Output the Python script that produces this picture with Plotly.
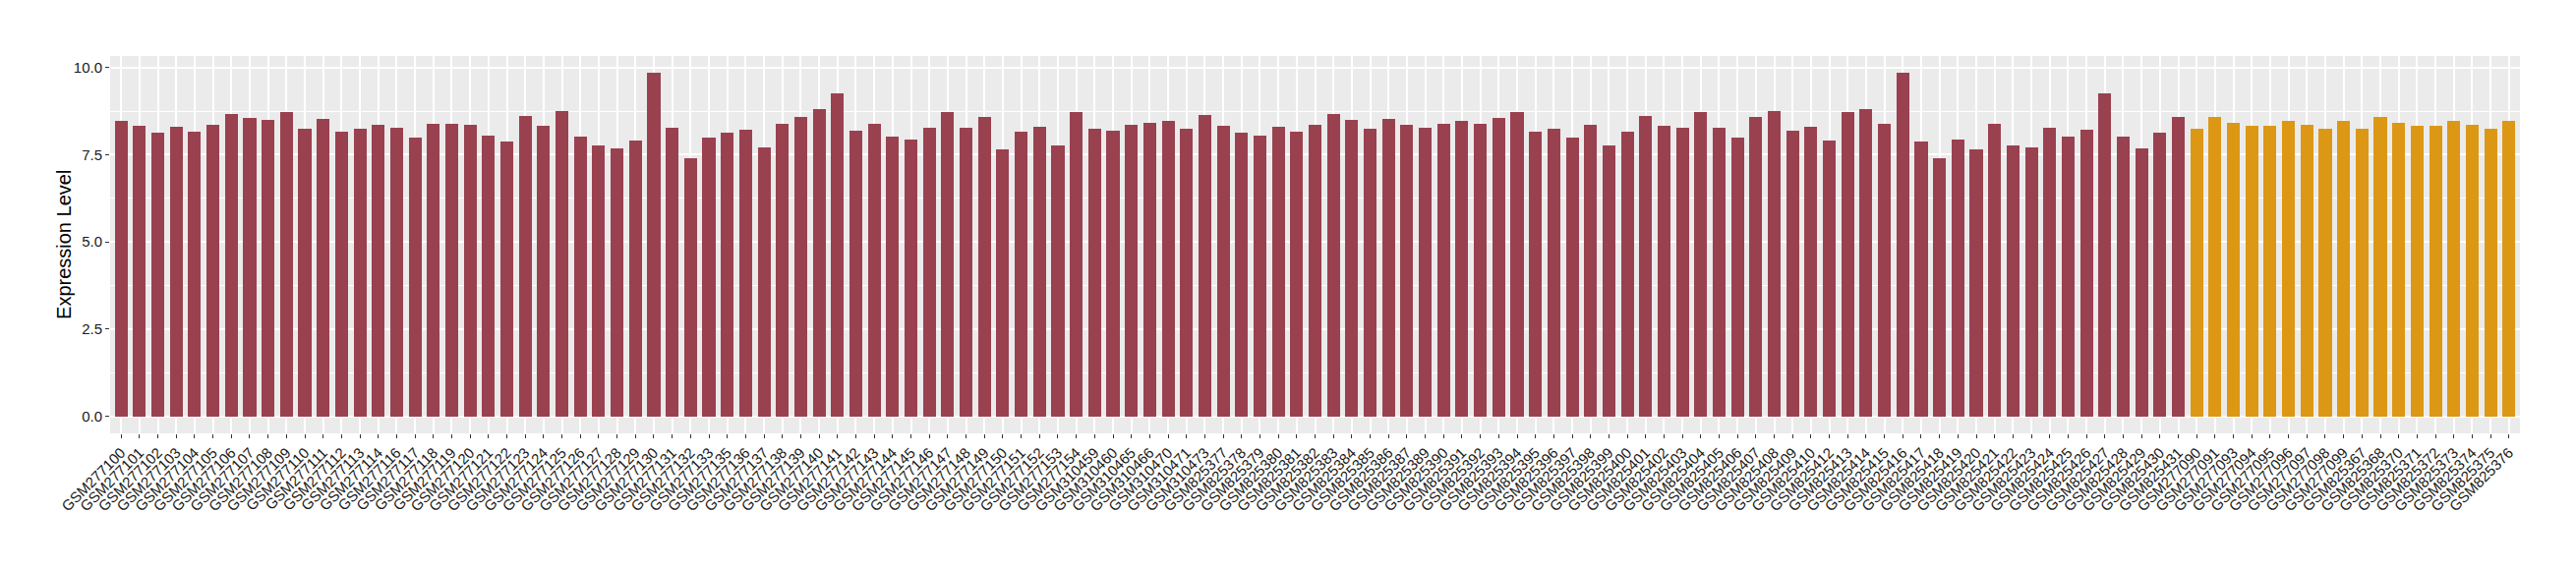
import plotly.graph_objects as go

# Group 1 (dark red) samples and expression values
group1_samples = [
    "GSM277100", "GSM277101", "GSM277102", "GSM277103", "GSM277104", "GSM277105",
    "GSM277106", "GSM277107", "GSM277108", "GSM277109", "GSM277110", "GSM277111",
    "GSM277112", "GSM277113", "GSM277114", "GSM277116", "GSM277117", "GSM277118",
    "GSM277119", "GSM277120", "GSM277121", "GSM277122", "GSM277123", "GSM277124",
    "GSM277125", "GSM277126", "GSM277127", "GSM277128", "GSM277129", "GSM277130",
    "GSM277131", "GSM277132", "GSM277133", "GSM277135", "GSM277136", "GSM277137",
    "GSM277138", "GSM277139", "GSM277140", "GSM277141", "GSM277142", "GSM277143",
    "GSM277144", "GSM277145", "GSM277146", "GSM277147", "GSM277148", "GSM277149",
    "GSM277150", "GSM277151", "GSM277152", "GSM277153", "GSM277154",
    "GSM310459", "GSM310460", "GSM310465", "GSM310466", "GSM310470", "GSM310471",
    "GSM310473",
    "GSM825377", "GSM825378", "GSM825379", "GSM825380", "GSM825381", "GSM825382",
    "GSM825383", "GSM825384", "GSM825385", "GSM825386", "GSM825387", "GSM825389",
    "GSM825390", "GSM825391", "GSM825392", "GSM825393", "GSM825394", "GSM825395",
    "GSM825396", "GSM825397", "GSM825398", "GSM825399", "GSM825400", "GSM825401",
    "GSM825402", "GSM825403", "GSM825404", "GSM825405", "GSM825406", "GSM825407",
    "GSM825408", "GSM825409", "GSM825410", "GSM825412", "GSM825413", "GSM825414",
    "GSM825415", "GSM825416", "GSM825417", "GSM825418", "GSM825419", "GSM825420",
    "GSM825421", "GSM825422", "GSM825423", "GSM825424", "GSM825425", "GSM825426",
    "GSM825427", "GSM825428", "GSM825429", "GSM825430", "GSM825431",
]
group1_values = [
    8.47, 8.33, 8.13, 8.30, 8.16, 8.36, 8.67, 8.56, 8.50, 8.73, 8.25, 8.53,
    8.16, 8.25, 8.36, 8.28, 7.99, 8.39, 8.39, 8.36, 8.05, 7.88, 8.62, 8.33,
    8.76, 8.02, 7.77, 7.68, 7.91, 9.84, 8.28, 7.40, 7.99, 8.13, 8.22, 7.71,
    8.39, 8.59, 8.82, 9.27, 8.19, 8.39, 8.02, 7.94, 8.28, 8.73, 8.28, 8.59,
    7.65, 8.16, 8.30, 7.77, 8.73,
    8.25, 8.19, 8.36, 8.42, 8.48, 8.25, 8.65,
    8.33, 8.13, 8.05, 8.30, 8.16, 8.36, 8.67, 8.50, 8.25, 8.53, 8.36, 8.28,
    8.39, 8.48, 8.39, 8.56, 8.73, 8.16, 8.25, 7.99, 8.36, 7.77, 8.16, 8.62,
    8.33, 8.28, 8.73, 8.28, 7.99, 8.59, 8.76, 8.19, 8.30, 7.91, 8.73, 8.82,
    8.39, 9.84, 7.88, 7.40, 7.94, 7.65, 8.39, 7.77, 7.71, 8.28, 8.02, 8.22,
    9.27, 8.02, 7.68, 8.13, 8.59,
]

# Group 2 (orange) samples and expression values
group2_samples = [
    "GSM277090", "GSM277091", "GSM277093", "GSM277094", "GSM277095", "GSM277096",
    "GSM277097", "GSM277098", "GSM277099", "GSM825367", "GSM825368", "GSM825370",
    "GSM825371", "GSM825372", "GSM825373", "GSM825374", "GSM825375", "GSM825376",
]
group2_values = [
    8.25, 8.59, 8.42, 8.33, 8.33, 8.48, 8.36, 8.25, 8.48,
    8.25, 8.59, 8.42, 8.33, 8.33, 8.48, 8.36, 8.25, 8.48,
]

y_ticks = [0, 2.5, 5, 7.5, 10]
y_tick_labels = ["0.0", "2.5", "5.0", "7.5", "10.0"]
y_title = "Expression Level"

all_samples = group1_samples + group2_samples
all_values = group1_values + group2_values
ymax = max(all_values)

fig = go.Figure()
fig.add_trace(go.Bar(x=group1_samples, y=group1_values, width=0.7,
                     marker=dict(color="#9A4150", line=dict(width=0)),
                     showlegend=False))
fig.add_trace(go.Bar(x=group2_samples, y=group2_values, width=0.7,
                     marker=dict(color="#DC9815", line=dict(width=0)),
                     showlegend=False))

# The page body adds an 8px offset; size the figure to compensate.
fig.update_layout(
    width=2612, height=572,
    margin=dict(l=104, r=57, t=49, b=139, autoexpand=False),
    paper_bgcolor="white",
    plot_bgcolor="#EBEBEB",
    barmode="overlay",
    bargap=0,
    font=dict(family="Liberation Sans, Arial, Helvetica, sans-serif", color="#1a1a1a"),
)

fig.update_xaxes(
    type="category",
    categoryorder="array",
    categoryarray=all_samples,
    range=[-0.6, len(all_samples) - 0.4],
    tickangle=-45,
    tickfont=dict(size=15, color="#1a1a1a"),
    showgrid=True, gridcolor="white", gridwidth=2,
    ticks="outside", ticklen=4, tickcolor="#333333", tickwidth=1,
    showline=False, zeroline=False,
)

fig.update_yaxes(
    range=[-0.05 * ymax, ymax * 1.05],
    tickvals=y_ticks, ticktext=y_tick_labels,
    tickfont=dict(size=15, color="#1a1a1a"),
    showgrid=True, gridcolor="white", gridwidth=2,
    minor=dict(dtick=1.25, tick0=0, showgrid=True, gridcolor="white", gridwidth=1, ticks=""),
    ticks="outside", ticklen=4, tickcolor="#333333", tickwidth=1,
    zeroline=False, showline=False,
)

fig.add_annotation(
    text=y_title, textangle=-90,
    xref="paper", yref="paper", x=-0.0192, y=0.5,
    xanchor="center", yanchor="middle", showarrow=False,
    font=dict(size=20, color="black"),
)

fig.write_html("out.html")
